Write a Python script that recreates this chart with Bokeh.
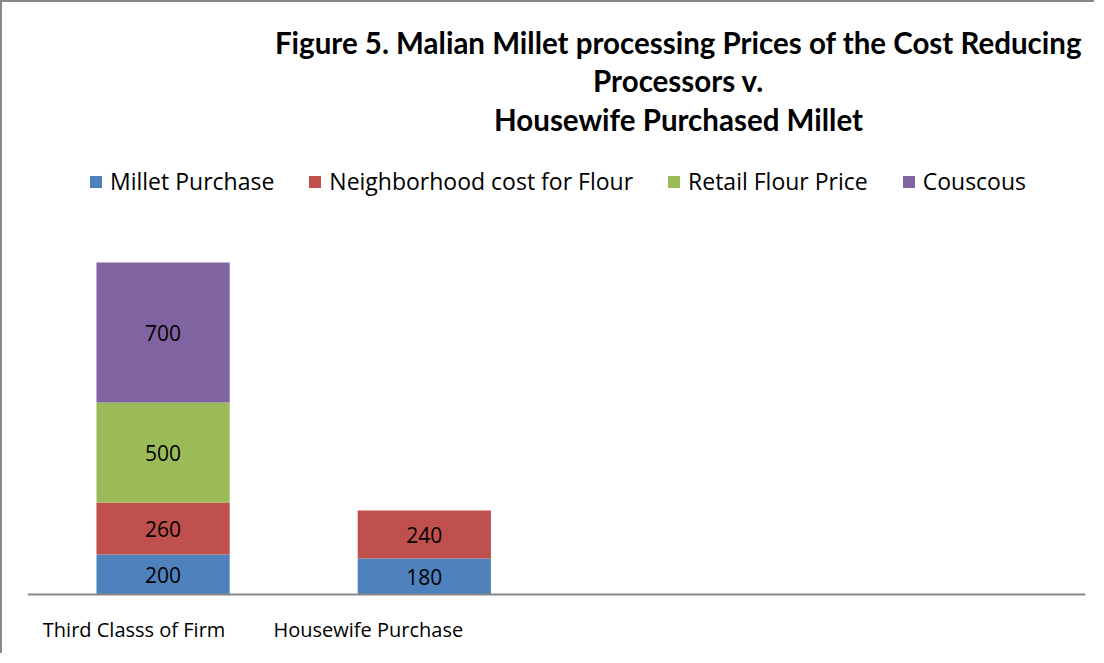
from bokeh.plotting import figure
from bokeh.models import ColumnDataSource, Label, LabelSet, Legend, LegendItem, Range1d, Span
from bokeh.core.properties import value
from bokeh.embed import file_html
from bokeh.resources import INLINE

# ---- data ----
categories = ["Third Classs of Firm", "Housewife Purchase", "", ""]
series_names = ["Millet Purchase", "Neighborhood cost for Flour", "Retail Flour Price", "Couscous"]
millet_purchase = [200, 180]
neighborhood_flour = [260, 240]
retail_flour = [500, 0]
couscous = [700, 0]
title_lines = [
    "Figure 5. Malian Millet processing Prices of the Cost Reducing",
    "Processors v.",
    "Housewife Purchased Millet",
]

# ---- styles ----
colors = ["#4F81BD", "#C0504D", "#9BBB59", "#8064A2"]
FONT = "Open Sans"
TITLE_FONT = "Lato"
cat_label_dx = [-29, -56]

series_values = [millet_purchase, neighborhood_flour, retail_flour, couscous]
n_bars = len(millet_purchase)
bar_names = categories[:n_bars]
centers = [i + 0.5 for i in range(n_bars)]   # category slots of width 1
keys = ["s0", "s1", "s2", "s3"]
data = {"x": centers}
for k, v in zip(keys, series_values):
    data[k] = v
source = ColumnDataSource(data)

p = figure(
    x_range=Range1d(-0.019, len(categories) + 0.031),
    y_range=Range1d(-305, 2960),
    width=1094, height=653,
    output_backend="svg", toolbar_location=None,
    min_border_left=25, min_border_right=11, min_border_top=0, min_border_bottom=0,
)
p.styles = {"border-left": "2px solid #888888", "border-top": "2px solid #888888"}
p.outline_line_color = None
p.grid.visible = False
p.yaxis.visible = False
p.xaxis.visible = False

# category axis baseline (spans the plotting frame)
p.add_layout(Span(location=0, dimension="width", line_color="#888888", line_width=2))

renderers = p.vbar_stack(keys, x="x", width=0.51, color=colors, line_color=None, source=source)

legend = Legend(
    items=[LegendItem(label=n, renderers=[r]) for n, r in zip(series_names, renderers)],
    orientation="horizontal", location=(61, 458),
    glyph_width=15, glyph_height=15, label_standoff=7, spacing=33,
    padding=0, margin=0, border_line_color=None, background_fill_alpha=0,
    label_text_font=FONT, label_text_font_size="23px", label_text_color="#000000",
)
p.add_layout(legend, "center")

# value labels inside segments
lx, ly, lt = [], [], []
for i in range(n_bars):
    base = 0
    for vals in series_values:
        v = vals[i]
        if v:
            lx.append(centers[i])
            ly.append(base + v / 2)
            lt.append(str(v))
        base += v
lsrc = ColumnDataSource(dict(x=lx, y=ly, t=lt))
p.add_layout(LabelSet(x="x", y="y", text="t", source=lsrc, text_align="center",
                      text_baseline="middle", text_font=value(FONT), text_font_size="21px",
                      text_color="#000000"))

# category labels
csrc = ColumnDataSource(dict(x=centers, y=[0] * n_bars, t=bar_names, dx=cat_label_dx))
p.add_layout(LabelSet(x="x", y="y", text="t", source=csrc, x_offset="dx", y_offset=-35,
                      text_align="center", text_baseline="middle", text_font=value(FONT),
                      text_font_size="20px", text_color="#000000"))

# title
for line, yy in zip(title_lines, [613, 575, 536]):
    p.add_layout(Label(x=651, y=yy, x_units="screen", y_units="screen", text=line,
                       text_align="center", text_baseline="middle", text_font=TITLE_FONT,
                       text_font_style="bold", text_font_size="29.5px", text_color="#000000"))

open("out.html", "w").write(file_html(p, INLINE))
